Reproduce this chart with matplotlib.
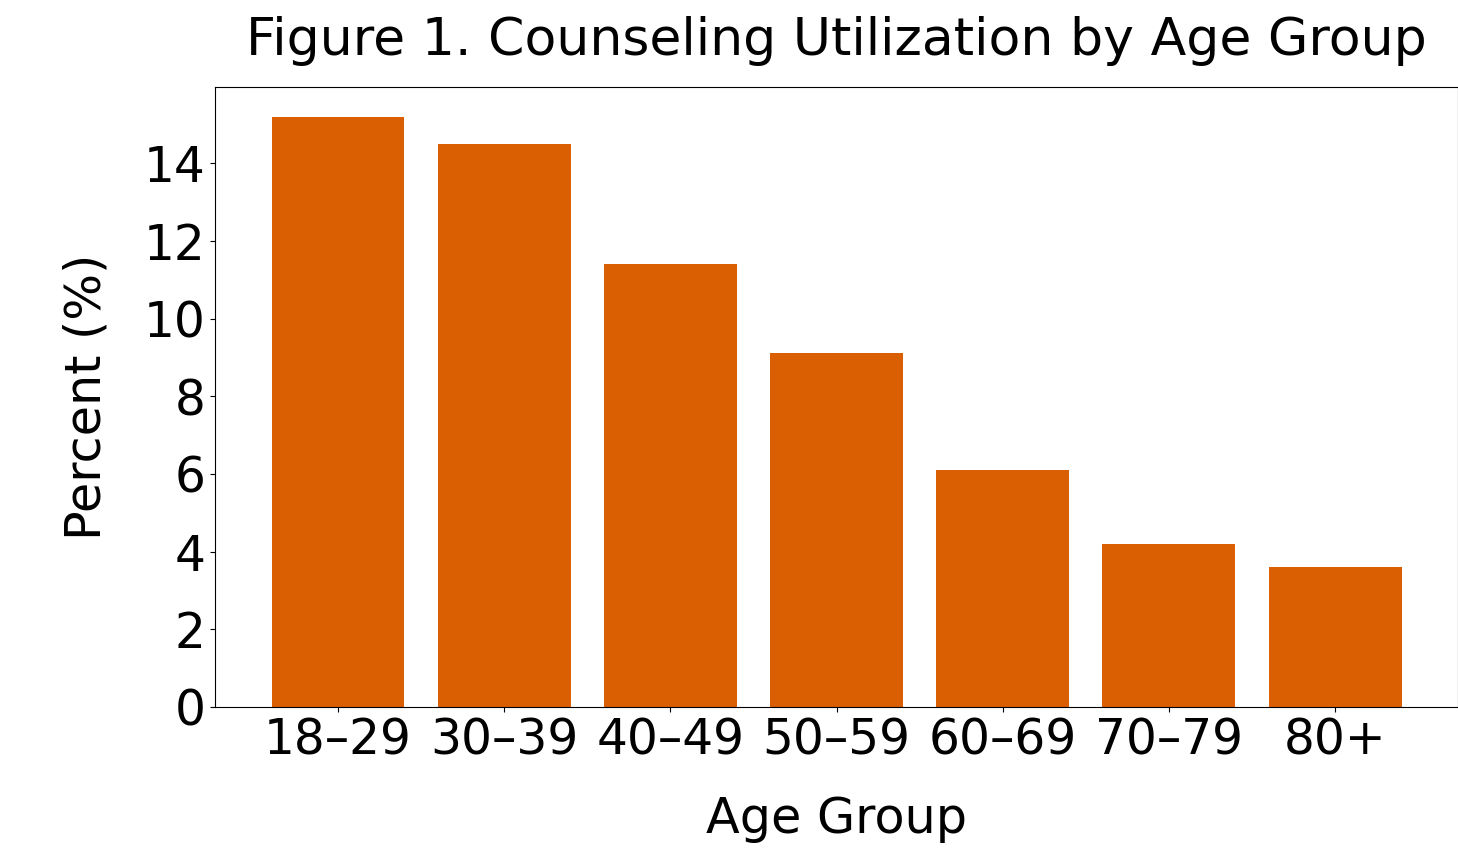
import numpy as np
import matplotlib
matplotlib.use("Agg")
import matplotlib.pyplot as plt

age_groups = ["18–29", "30–39", "40–49", "50–59", "60–69", "70–79", "80+"]
percent = [15.2, 14.5, 11.4, 9.1, 6.1, 4.2, 3.6]
y_ticks = [0, 2, 4, 6, 8, 10, 12, 14]

fig = plt.figure(figsize=(14.58, 8.57), dpi=100)
ax = fig.add_axes([215 / 1458, 1 - 707 / 857, 1 - 215 / 1458, (707 - 87) / 857])

x = np.arange(len(age_groups))
ax.bar(x, percent, width=0.8, color="#D95F02")

ax.set_xticks(x)
ax.set_xticklabels(age_groups)
ax.set_yticks(y_ticks)
ax.tick_params(axis="both", labelsize=35)
ax.set_xlabel("Age Group", fontsize=35.5, labelpad=22)
ax.set_ylabel("Percent (%)", fontsize=35.5, labelpad=24)
ax.set_title("Figure 1. Counseling Utilization by Age Group", fontsize=37.5, pad=23)

fig.savefig("out.png", dpi=100)
